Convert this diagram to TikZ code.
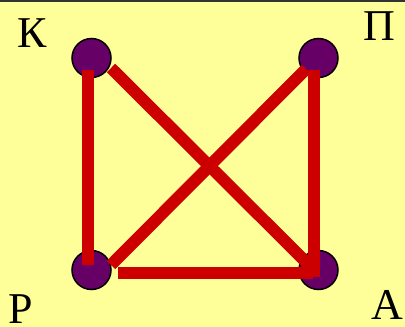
\documentclass[tikz,border=0pt]{standalone}
\usepackage{fontspec}
\setmainfont{Liberation Serif}
\usepackage{xcolor}
\usepackage{tikz}
\usetikzlibrary{positioning, calc}
\definecolor{bgyel}{HTML}{FFFF99}
\definecolor{vpurple}{HTML}{660066}
\definecolor{vred}{HTML}{CC0000}
\tikzset{
  vbox/.style={circle,draw=black,line width=1.5pt,fill=vpurple,minimum size=39pt,inner sep=0pt},
  lbl/.style={font=\fontsize{44}{50}\selectfont,anchor=base,inner sep=0pt},
  redln/.style={draw=vred,line width=12pt}
}
\begin{document}
\begin{tikzpicture}[x=1pt,y=-1pt]
  \fill[bgyel] (0,0) rectangle (405,327);
  \useasboundingbox (0,0) rectangle (405,327);
  \draw[black!80,line width=2pt] (0,1) -- (405,1);

  % vertices
  \node[vbox] (K) at (91.5,58) {};
  \node[vbox] (P) at (318.5,58) {};
  \node[vbox] (R) at (91.5,270) {};
  \node[vbox] (A) at (318.5,270) {};

  % labels
  \node[lbl] (lK) at (32,47) {К};
  \node[lbl] (lP) at (379,40) {П};
  \node[lbl] (lR) at (21,323) {Р};
  \node[lbl] (lA) at (387,319) {А};

  % edges
  \draw[redln] ([shift={(-3.5,12)}]K.center) -- ([shift={(-3.5,-5)}]R.center);
  \draw[redln] ([shift={(19.5,10)}]K.center) -- ([shift={(-6.5,-2)}]A.center);
  \draw[redln] ([shift={(-12.5,11)}]P.center) -- ([shift={(19.5,-5)}]R.center);
  \draw[redln] ([shift={(-4.5,12)}]P.center) -- ([shift={(-4.5,7)}]A.center);
  \draw[redln] ([shift={(26.5,2.5)}]R.center) -- ([shift={(-5.5,2.5)}]A.center);
\end{tikzpicture}
\end{document}
